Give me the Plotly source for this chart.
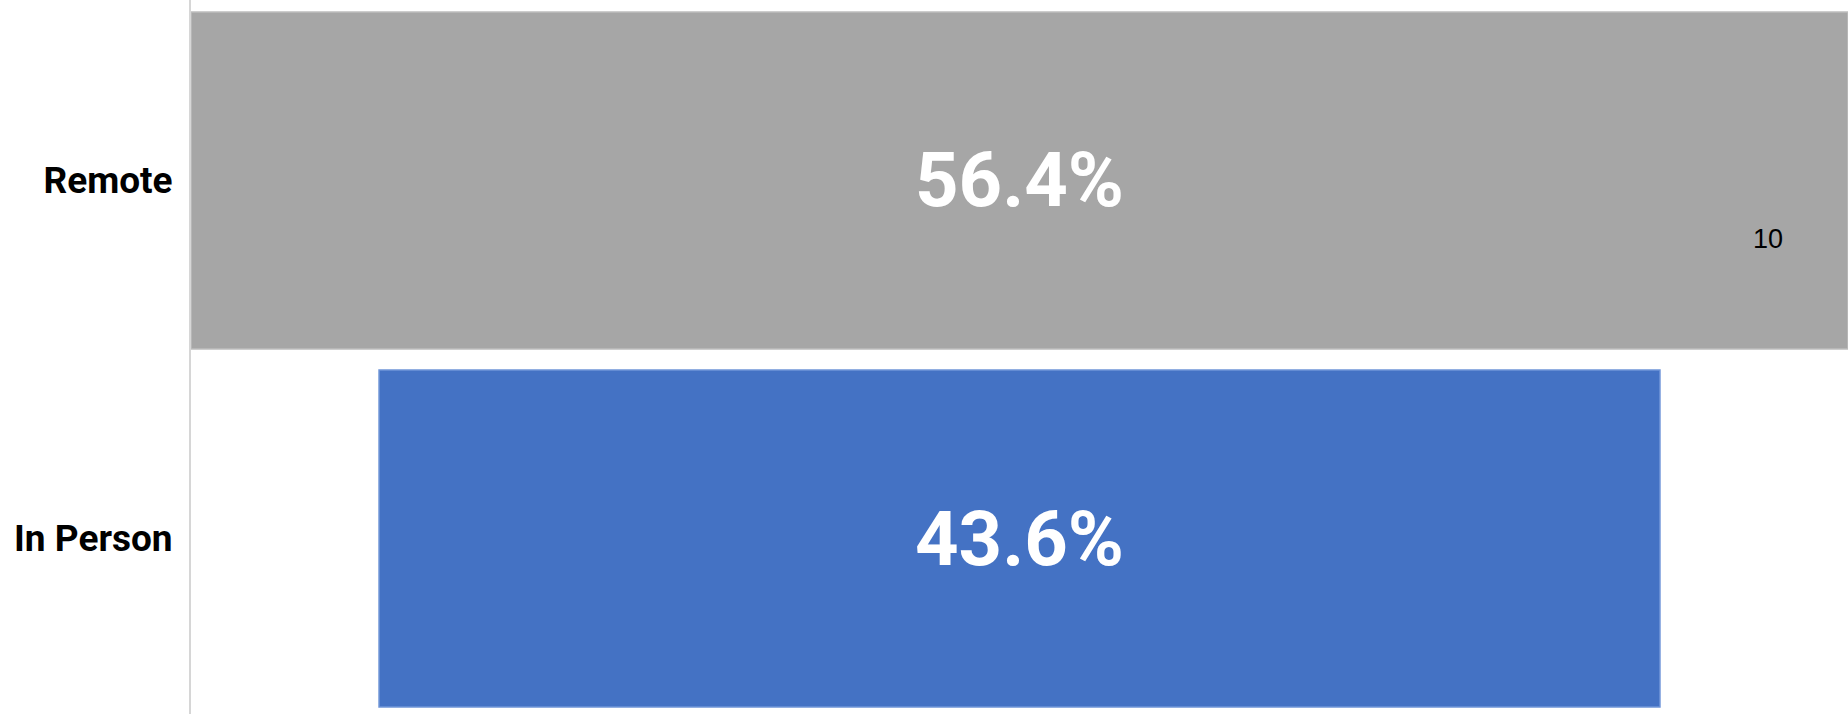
import plotly.graph_objects as go

# funnel: remote vs in person share
categorias = ["Remote", "In Person"]
porcentajes = [56.4, 43.6]
colores = ["#a6a6a6", "#4472c4"]
bordes = ["#bdbdbd", "#6f95d8"]
nota = "10"

fig = go.Figure(go.Funnel(
    y=categorias,
    x=porcentajes,
    texttemplate="%{x}%",
    textposition="inside",
    insidetextanchor="middle",
    textfont=dict(family="Roboto", size=76, color="white", weight="bold"),
    marker=dict(color=colores, line=dict(color=bordes, width=1.5)),
    connector=dict(visible=False),
    hoverinfo="skip",
))

fig.add_annotation(
    text=nota, xref="paper", yref="paper", x=0.952, y=0.665,
    xanchor="center", yanchor="middle",
    showarrow=False, font=dict(family="Liberation Sans", size=27, color="black"),
)

fig.update_layout(
    width=1848, height=714,
    margin=dict(l=191, r=0, t=0, b=0, autoexpand=False),
    paper_bgcolor="white", plot_bgcolor="white",
    funnelgap=0.059,
    showlegend=False,
    xaxis=dict(range=[-28.2, 28.2], visible=False),
    yaxis=dict(
        range=[1.49, -0.504], autorange=False,
        showline=True, linecolor="#d6d6d6", linewidth=2,
        showgrid=False, ticks="", ticklabelstandoff=9,
        tickfont=dict(family="Roboto", size=37, color="black", weight="bold"),
    ),
)

# quitar el margen del body para que el grafico ocupe toda la ventana
fig.write_html(
    "out.html",
    config={"displayModeBar": False},
    post_script="document.body.style.margin='0';document.body.style.overflow='hidden';",
)
